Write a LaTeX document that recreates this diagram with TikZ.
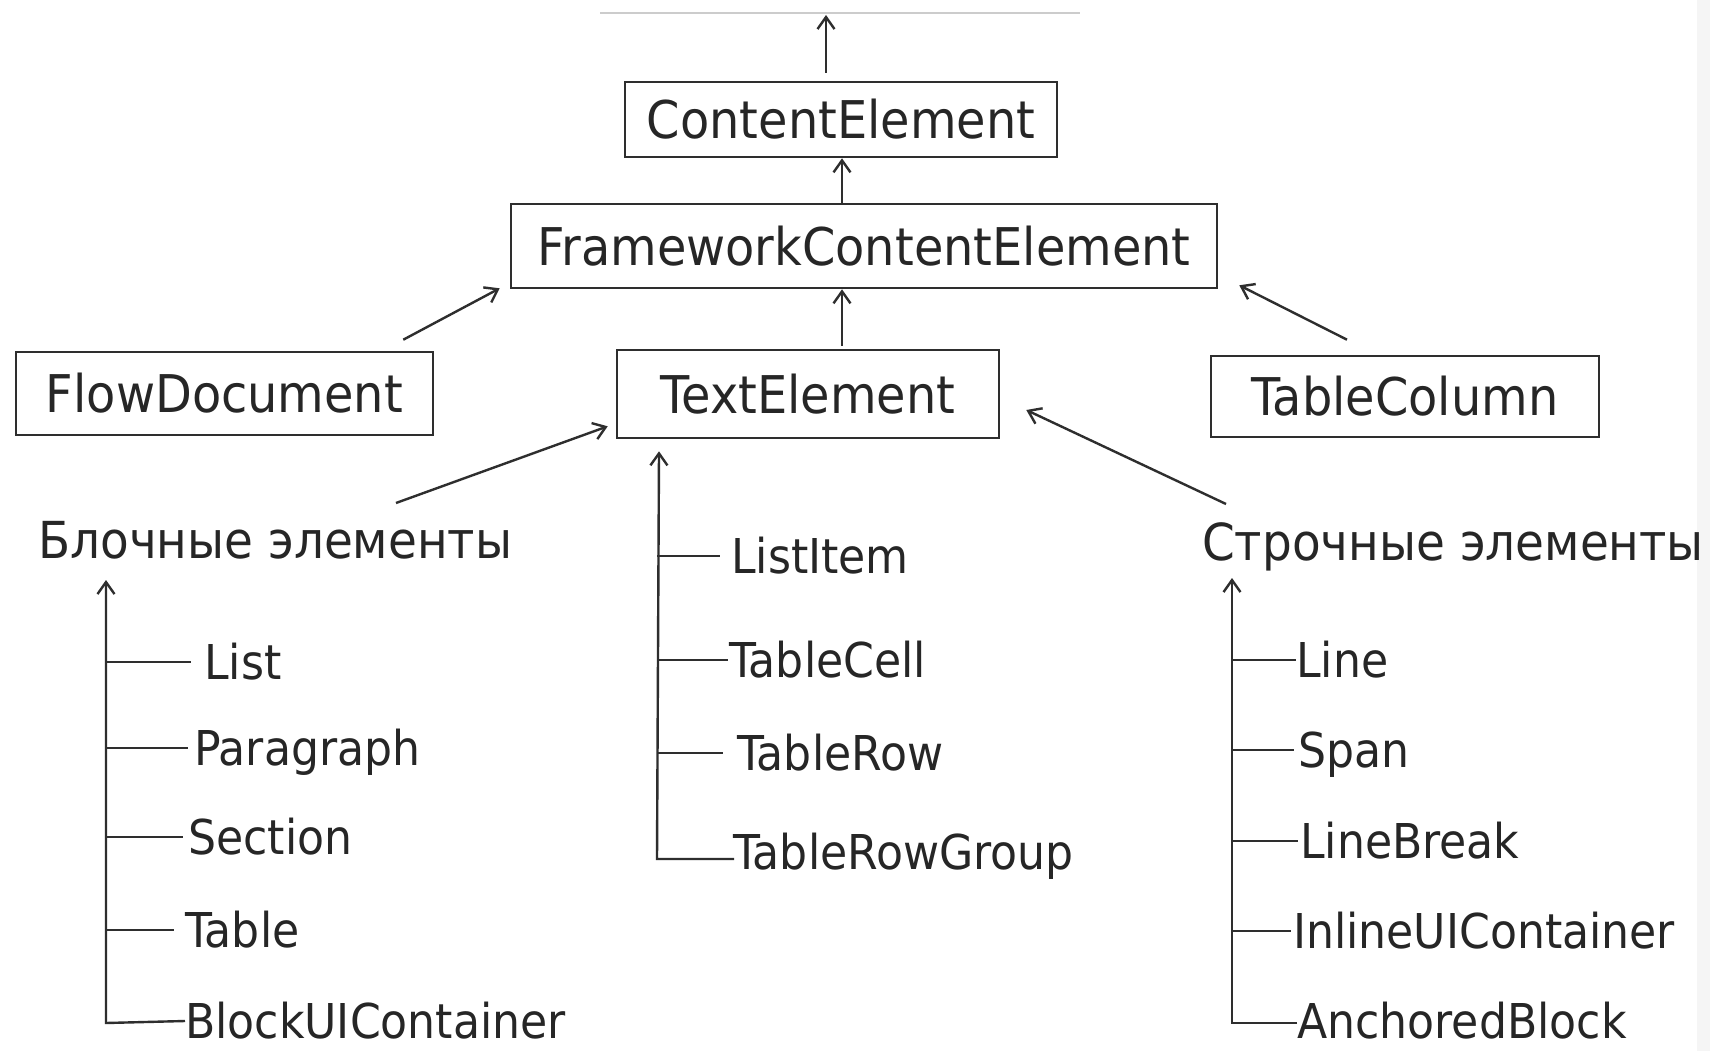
\documentclass[tikz,border=0pt]{standalone}
\usepackage{fontspec}
\setmainfont[FakeStretch=0.92]{DejaVu Sans}
\usetikzlibrary{arrows.meta}
\begin{document}
\begin{tikzpicture}[x=1pt,y=-1pt,
  ln/.style={line width=2.4pt, draw=black!82},
  arr/.style={ln, -{Straight Barb[length=12pt,width=17pt,line width=2.4pt]}},
  box/.style={draw=black!82, line width=2.6pt, inner sep=0pt, font=\fontsize{52}{58}\selectfont, text=black!85},
  head/.style={inner sep=0pt, anchor=base west, font=\fontsize{51}{57}\selectfont, text=black!85},
  item/.style={inner sep=0pt, anchor=west, text height=35pt, text depth=0pt, font=\fontsize{48}{54}\selectfont, text=black!85}]
\useasboundingbox (0,0) rectangle (1710,1051);
\fill[white] (0,0) rectangle (1710,1051);
\fill[black!4] (1697,0) rectangle (1710,1051);
\draw[black!20, line width=1.2pt] (600,13) -- (1080,13);

% boxes
\node[box, minimum width=432pt, minimum height=75pt] (ce) at (841,119.5) {ContentElement};
\node[box, minimum width=706pt, minimum height=84pt] (fce) at (864,246) {FrameworkContentElement};
\node[box, minimum width=417pt, minimum height=83pt] (fd) at (224.5,393.5) {FlowDocument};
\node[box, minimum width=382pt, minimum height=88pt] (te) at (808,394) {TextElement};
\node[box, minimum width=388pt, minimum height=81pt] (tc) at (1405,396.5) {TableColumn};

% headings
\node[head] (bl) at (38,558) {Блочные элементы};
\node[head] (st) at (1202,560) {Строчные элементы};

% arrows between levels
\coordinate (top) at (826,15);
\draw[arr] ([xshift=-15pt,yshift=8pt]ce.north) -- (top);
\draw[arr] ([xshift=-22pt]fce.north) -- ([xshift=1pt]ce.south);
\draw[arr] ([xshift=34pt,yshift=3pt]te.north) -- ([xshift=-22pt]fce.south);
\draw[arr] ([xshift=-31pt,yshift=11pt]fd.north east) -- ([xshift=-10pt,yshift=1pt]fce.south west);
\draw[arr] ([xshift=-58pt,yshift=15pt]tc.north) -- ([xshift=21pt,yshift=4pt]fce.south east);
\draw[arr] ([xshift=358pt,yshift=55pt]bl.base west) -- ([xshift=-8pt,yshift=13pt]te.south west);
\draw[arr] ([xshift=24pt,yshift=56pt]st.base west) -- ([xshift=26pt,yshift=-16pt]te.east);

% left tree
\node[item] (l1) at (204,662) {List};
\node[item] (l2) at (194,748) {Paragraph};
\node[item] (l3) at (188,837) {Section};
\node[item] (l4) at (185,930) {Table};
\node[item] (l5) at (185,1021) {BlockUIContainer};
\coordinate (lbot) at (106,1023);
\draw[arr] (l5.west) -- (lbot) -- ([xshift=68pt,yshift=-22pt]bl.base west);
\draw[ln] (lbot |- l1.west) -- ([xshift=-13pt]l1.west);
\draw[ln] (lbot |- l2.west) -- ([xshift=-6pt]l2.west);
\draw[ln] (lbot |- l3.west) -- ([xshift=-5pt]l3.west);
\draw[ln] (lbot |- l4.west) -- ([xshift=-11pt]l4.west);

% middle tree
\node[item] (m1) at (731,556) {ListItem};
\node[item] (m2) at (729,660) {TableCell};
\node[item] (m3) at (737,753) {TableRow};
\node[item] (m4) at (733,852) {TableRowGroup};
\coordinate (mbot) at (657,859);
\draw[arr] ([xshift=1pt,yshift=-7pt]m4.west) -- (mbot) -- ([xshift=-149pt,yshift=-12pt]te.south);
\draw[ln] (mbot |- m1.west) -- ([xshift=-11pt]m1.west);
\draw[ln] (mbot |- m2.west) -- ([xshift=-1pt]m2.west);
\draw[ln] (mbot |- m3.west) -- ([xshift=-14pt]m3.west);

% right tree
\node[item] (r1) at (1296,660) {Line};
\node[item] (r2) at (1298,750) {Span};
\node[item] (r3) at (1300,841) {LineBreak};
\node[item] (r4) at (1293,931) {InlineUIContainer};
\node[item] (r5) at (1297,1021) {AnchoredBlock};
\coordinate (rbot) at (1232,1023);
\draw[arr] ([yshift=-2pt]r5.west) -- (rbot) -- ([xshift=30pt,yshift=-18pt]st.base west);
\draw[ln] (rbot |- r1.west) -- (r1.west);
\draw[ln] (rbot |- r2.west) -- ([xshift=-4pt]r2.west);
\draw[ln] (rbot |- r3.west) -- ([xshift=-2pt]r3.west);
\draw[ln] (rbot |- r4.west) -- ([xshift=-2pt]r4.west);
\end{tikzpicture}
\end{document}
